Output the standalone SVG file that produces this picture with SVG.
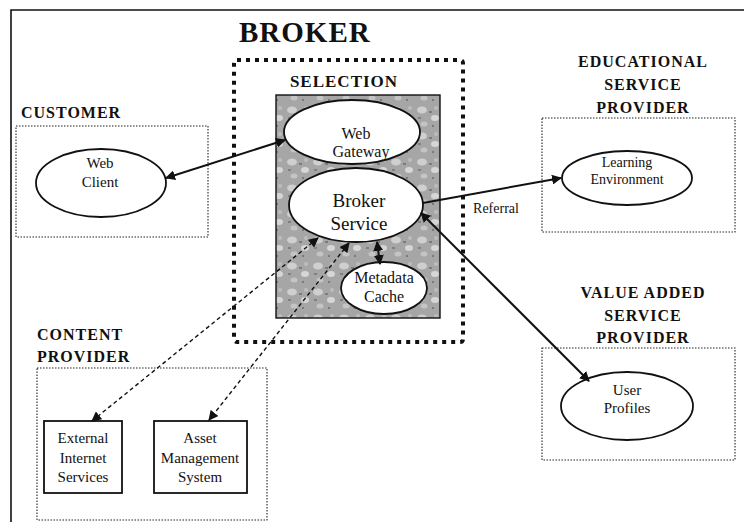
<svg xmlns="http://www.w3.org/2000/svg" width="744" height="522" viewBox="0 0 744 522">
<style>
.frame{fill:none;stroke:#111;stroke-width:1.6}
.grp{fill:none;stroke:#222;stroke-width:1.1;stroke-dasharray:1.5 1.5}
.sel{fill:none;stroke:#111;stroke-width:4;stroke-dasharray:4 5}
.node{fill:#fff;stroke:#111;stroke-width:1.8}
.t{font-family:"Liberation Serif","Times New Roman",serif;fill:#111;text-anchor:middle}
.lbl{font-family:"Liberation Serif","Times New Roman",serif;fill:#111;font-weight:bold;letter-spacing:1px}
.c{fill:none;stroke:#111;stroke-width:2}
.d{fill:none;stroke:#111;stroke-width:1.4;stroke-dasharray:4 3}
</style>
<defs>
<pattern id="tex" width="26" height="26" patternUnits="userSpaceOnUse">
<rect width="26" height="26" fill="#a6a6a6"/>
<ellipse cx="6" cy="6" rx="5" ry="3.5" fill="#cfcfcf"/>
<ellipse cx="19" cy="14" rx="4" ry="3" fill="#d6d6d6"/>
<ellipse cx="8" cy="20" rx="3.5" ry="2.5" fill="#c4c4c4"/>
<circle cx="20" cy="4" r="2" fill="#bdbdbd"/>
<rect x="13" y="7" width="3" height="2" fill="#7c7c7c"/>
<rect x="2" y="13" width="3" height="2" fill="#808080"/>
<rect x="16" y="21" width="2" height="2" fill="#7a7a7a"/>
</pattern>
<marker id="ah" viewBox="0 0 10 10" refX="9" refY="5" markerWidth="10" markerHeight="10" markerUnits="userSpaceOnUse" orient="auto-start-reverse">
<path d="M0,0 L10,5 L0,10 z" fill="#111"/>
</marker>
</defs>

<g id="frame">
<path class="frame" d="M11,522 L11,10 L744,10"/>
</g>

<text class="lbl" x="239" y="42" font-size="29">BROKER</text>

<g id="broker-selection">
<rect class="sel" x="234" y="60" width="229" height="282" rx="3"/>
<text class="lbl" x="344" y="87" font-size="17" text-anchor="middle">SELECTION</text>
<rect x="276" y="95" width="164" height="223" fill="url(#tex)" stroke="#111" stroke-width="1.4"/>
</g>

<g id="customer">
<text class="lbl" x="21" y="118" font-size="16">CUSTOMER</text>
<rect class="grp" x="16" y="126" width="192" height="111"/>
</g>

<g id="educational">
<text class="lbl" x="643" y="67" font-size="16" text-anchor="middle">EDUCATIONAL</text>
<text class="lbl" x="643" y="90" font-size="16" text-anchor="middle">SERVICE</text>
<text class="lbl" x="643" y="113" font-size="16" text-anchor="middle">PROVIDER</text>
<rect class="grp" x="542" y="118" width="193" height="114"/>
</g>

<g id="value-added">
<text class="lbl" x="643" y="298" font-size="16" text-anchor="middle">VALUE ADDED</text>
<text class="lbl" x="643" y="321" font-size="16" text-anchor="middle">SERVICE</text>
<text class="lbl" x="643" y="343" font-size="16" text-anchor="middle">PROVIDER</text>
<rect class="grp" x="542" y="348" width="193" height="112"/>
</g>

<g id="content-provider">
<text class="lbl" x="37" y="340" font-size="16">CONTENT</text>
<text class="lbl" x="37" y="362" font-size="16">PROVIDER</text>
<rect class="grp" x="37" y="368" width="230" height="152"/>
</g>

<g id="web-client">
<ellipse class="node" cx="101" cy="183" rx="65" ry="34"/>
<text class="t" x="100" y="168" font-size="15">Web</text>
<text class="t" x="100" y="187" font-size="15">Client</text>
</g>

<g id="web-gateway">
<ellipse class="node" cx="352" cy="132" rx="68" ry="32"/>
<text class="t" x="356" y="139" font-size="16">Web</text>
<text class="t" x="361" y="157" font-size="16">Gateway</text>
</g>

<g id="broker-service">
<ellipse class="node" cx="356" cy="205" rx="67" ry="37"/>
<text class="t" x="359" y="207" font-size="19">Broker</text>
<text class="t" x="359" y="230" font-size="19">Service</text>
</g>

<g id="metadata-cache">
<ellipse class="node" cx="384" cy="288" rx="43" ry="26"/>
<text class="t" x="384" y="283" font-size="16">Metadata</text>
<text class="t" x="384" y="302" font-size="16">Cache</text>
</g>

<g id="learning-environment">
<ellipse class="node" cx="627" cy="178" rx="65" ry="27"/>
<text class="t" x="627" y="167" font-size="14">Learning</text>
<text class="t" x="627" y="184" font-size="14">Environment</text>
</g>

<g id="user-profiles">
<ellipse class="node" cx="627" cy="406" rx="66" ry="34"/>
<text class="t" x="627" y="395" font-size="15">User</text>
<text class="t" x="627" y="413" font-size="15">Profiles</text>
</g>

<g id="external-internet-services">
<rect class="node" x="44" y="421" width="78" height="72"/>
<text class="t" x="83" y="443" font-size="15">External</text>
<text class="t" x="83" y="463" font-size="15">Internet</text>
<text class="t" x="83" y="482" font-size="15">Services</text>
</g>

<g id="asset-management-system">
<rect class="node" x="154" y="421" width="93" height="72"/>
<text class="t" x="200" y="443" font-size="15">Asset</text>
<text class="t" x="200" y="463" font-size="15">Management</text>
<text class="t" x="200" y="482" font-size="15">System</text>
</g>

<g id="connectors">
<line class="c" x1="166" y1="178" x2="285" y2="140" marker-start="url(#ah)" marker-end="url(#ah)"/>
<line class="c" x1="423" y1="203" x2="561" y2="178" marker-end="url(#ah)"/>
<text class="t" x="496" y="213" font-size="14">Referral</text>
<line class="c" x1="421" y1="213" x2="589" y2="381" marker-start="url(#ah)" marker-end="url(#ah)"/>
<line class="c" x1="377" y1="242" x2="380" y2="264" marker-start="url(#ah)" marker-end="url(#ah)"/>
<line class="d" x1="318" y1="238" x2="92" y2="421" marker-start="url(#ah)" marker-end="url(#ah)"/>
<line class="d" x1="349" y1="243" x2="209" y2="420" marker-start="url(#ah)" marker-end="url(#ah)"/>
</g>
</svg>
